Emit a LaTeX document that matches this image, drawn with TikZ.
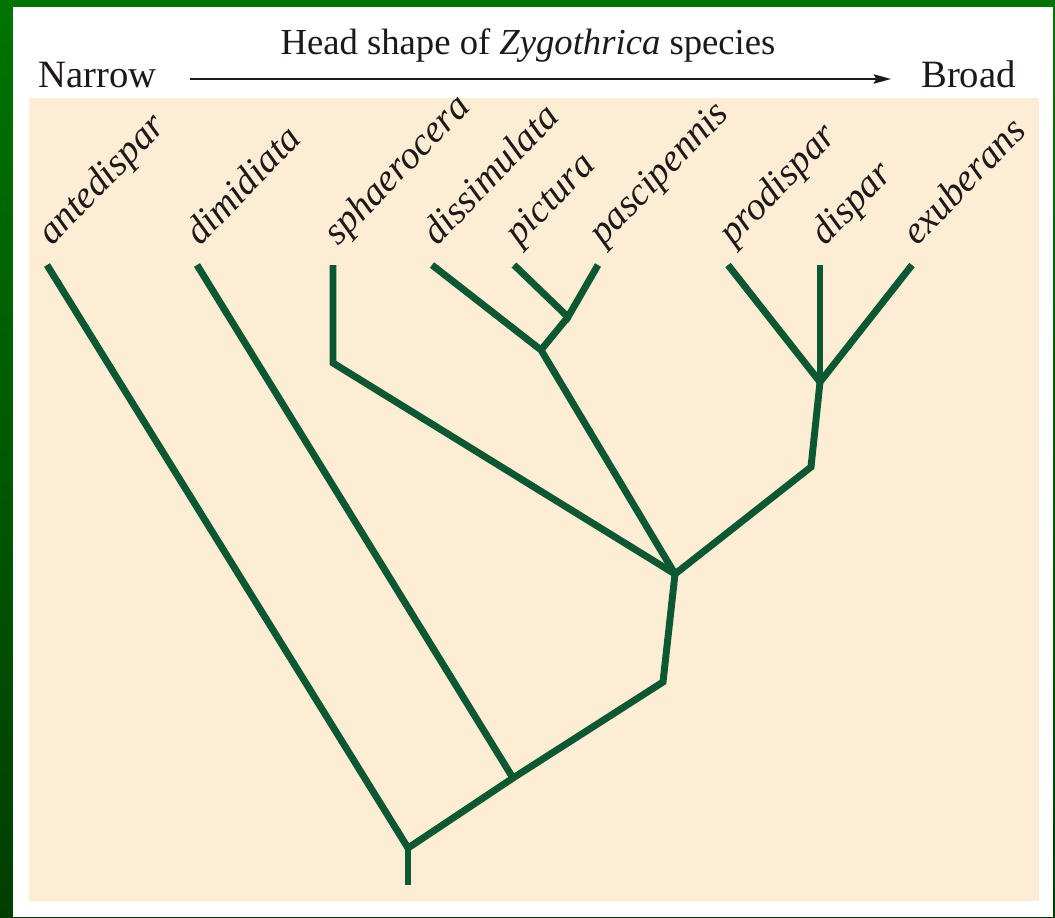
\documentclass[tikz,border=0pt]{standalone}
\usepackage{fontspec}
\setmainfont{Liberation Serif}
\usetikzlibrary{arrows.meta}
\definecolor{gtop}{RGB}{0,116,0}
\definecolor{gbot}{RGB}{0,62,0}
\definecolor{beige}{RGB}{253,237,212}
\definecolor{branch}{RGB}{12,88,50}
\definecolor{ink}{RGB}{30,25,25}
\tikzset{
  branchline/.style={draw=branch, line width=5.2pt, line join=miter},
  species/.style={anchor=base west, rotate=46, inner sep=0pt, text=ink, font=\fontsize{29}{34}\selectfont\itshape},
  header/.style={inner sep=0pt, text=ink, font=\fontsize{27.5}{33}\selectfont},
}
\begin{document}
\begin{tikzpicture}[x=0.75pt,y=-0.75pt]
\useasboundingbox (0,0) rectangle (1055,917);
% background frame
\shade[top color=gtop, bottom color=gbot] (0,0) rectangle (1055,917);
\fill[white] (13,7) rectangle (1053,917);
\fill[beige] (29,98) rectangle (1039,901);
% header
\node[header, anchor=base] (title) at (528,55) {Head shape of \textit{Zygothrica} species};
\node[header, anchor=base west] (narrow) at (38,88) {\fontsize{29}{34}\selectfont Narrow};
\node[header, anchor=base east] (broad) at (1016,88) {\fontsize{29}{34}\selectfont Broad};
\coordinate (a0) at (190,79);
\coordinate (a1) at (891,79);
\draw[ink, line width=1.4pt, -{Stealth[length=13pt,width=7pt,inset=2pt]}] (a0) -- (a1);
% tips
\coordinate (tA) at (47,265);
\coordinate (tB) at (197,265);
\coordinate (tC) at (333,265);
\coordinate (tD) at (432,265);
\coordinate (tE) at (514,265);
\coordinate (tF) at (598,265);
\coordinate (tG) at (728,265);
\coordinate (tH) at (820,265);
\coordinate (tI) at (912,265);
% internal points
\coordinate (base) at (408,885);
\coordinate (r0) at (408,848);
\coordinate (n1) at (513,778);
\coordinate (n2) at (663,682);
\coordinate (n3) at (675,574);
\coordinate (c1) at (333,363);
\coordinate (n4) at (541,350);
\coordinate (n5) at (568,317);
\coordinate (n6) at (811,467);
\coordinate (n7) at (820,382);
% branches
\draw[branchline] (base) -- (r0);
\draw[branchline] (tA) -- (r0) -- (n1) -- (n2) -- (n3);
\draw[branchline] (tB) -- (n1);
\draw[branchline] (tC) -- (c1) -- (n3);
\draw[branchline] (tD) -- (n4) -- (n3);
\draw[branchline] (n4) -- (n5);
\draw[branchline] (tE) -- (n5) -- (tF);
\draw[branchline] (n3) -- (n6) -- (n7);
\draw[branchline] (tG) -- (n7) -- (tI);
\draw[branchline] (tH) -- (n7);
% labels
\node[species] (lA) at (52,247) {antedispar};
\node[species] (lB) at (200,247) {dimidiata};
\node[species] (lC) at (338,247) {sphaerocera};
\node[species] (lD) at (437,247) {dissimulata};
\node[species] (lE) at (519,247) {pictura};
\node[species] (lF) at (603,247) {pascipennis};
\node[species] (lG) at (733,247) {prodispar};
\node[species] (lH) at (825,247) {dispar};
\node[species] (lI) at (917,247) {exuberans};
\end{tikzpicture}
\end{document}
